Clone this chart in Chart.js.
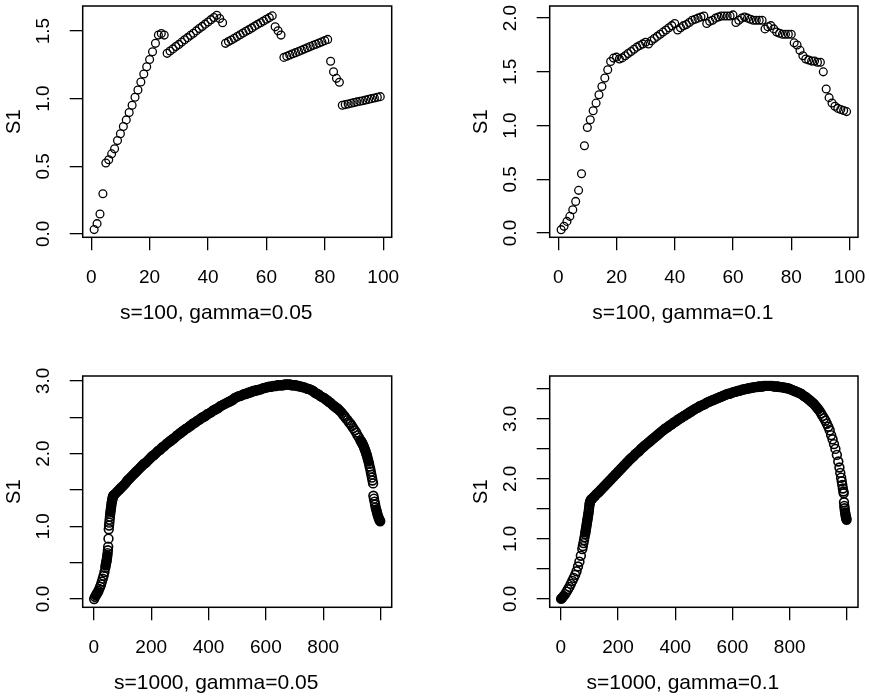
<!DOCTYPE html>
<html lang="en">
<head>
  <meta charset="UTF-8" />
  <title>S1 panels</title>
  <script src="https://cdn.jsdelivr.net/npm/chart.js"></script>
  <style>
    html, body { margin: 0; padding: 0; background: #fff; }
    body { width: 869px; height: 696px; position: relative; overflow: hidden; }
    .panel { position: absolute; }
  </style>
</head>
<body>

  <div class="panel" style="left:0;top:0;width:434px;height:348px"><canvas id="p1"></canvas></div>
  <div class="panel" style="left:467px;top:0;width:402px;height:348px"><canvas id="p2"></canvas></div>
  <div class="panel" style="left:0;top:340px;width:434px;height:356px"><canvas id="p3"></canvas></div>
  <div class="panel" style="left:467px;top:340px;width:402px;height:356px"><canvas id="p4"></canvas></div>

  <script>
    // s=100, gamma=0.05  (index 1..99)
    const p1Y = [
      0.032, 0.076, 0.147, 0.297, 0.524, 0.548, 0.592, 0.629, 0.690, 0.740,
      0.794, 0.843, 0.897, 0.951, 1.010, 1.064, 1.123, 1.182, 1.236, 1.290,
      1.347, 1.409, 1.470, 1.482, 1.470, 1.335, 1.352, 1.368, 1.385, 1.401,
      1.418, 1.435, 1.451, 1.468, 1.484, 1.501, 1.518, 1.534, 1.551, 1.567,
      1.584, 1.600, 1.617, 1.593, 1.561, 1.409, 1.422, 1.434, 1.447, 1.460,
      1.472, 1.485, 1.498, 1.510, 1.523, 1.536, 1.549, 1.561, 1.574, 1.587,
      1.599, 1.612, 1.531, 1.502, 1.470, 1.305, 1.314, 1.323, 1.332, 1.340,
      1.349, 1.358, 1.367, 1.376, 1.385, 1.394, 1.402, 1.411, 1.420, 1.429,
      1.438, 1.276, 1.199, 1.150, 1.121, 0.951, 0.956, 0.961, 0.966, 0.971,
      0.976, 0.981, 0.985, 0.990, 0.995, 1.000, 1.005, 1.010, 1.015
    ];

    // s=100, gamma=0.1  (index 1..99)
    const p2Y = [
      0.031, 0.062, 0.108, 0.155, 0.217, 0.294, 0.397, 0.552, 0.812, 0.982,
      1.054, 1.138, 1.209, 1.287, 1.364, 1.442, 1.519, 1.597, 1.628, 1.637,
      1.62, 1.63, 1.65, 1.67, 1.69, 1.71, 1.73, 1.745, 1.76, 1.775,
      1.76, 1.79, 1.81, 1.83, 1.85, 1.87, 1.89, 1.91, 1.93, 1.95,
      1.89, 1.91, 1.93, 1.94, 1.96, 1.98, 1.99, 2.00, 2.01, 2.02,
      1.95, 1.97, 1.98, 2.00, 2.01, 2.02, 2.02, 2.02, 2.02, 2.03,
      1.96, 1.98, 2.00, 2.01, 2.00, 1.99, 1.98, 1.98, 1.98, 1.98,
      1.90, 1.92, 1.93, 1.90, 1.87, 1.86, 1.85, 1.85, 1.85, 1.85,
      1.77, 1.75, 1.70, 1.65, 1.62, 1.61, 1.60, 1.60, 1.59, 1.59,
      1.50, 1.34, 1.26, 1.21, 1.18, 1.16, 1.15, 1.14, 1.13
    ];

    // s=1000, gamma=0.05
    const p3X = [
      1, 4, 7, 10, 13, 16, 19, 22, 25, 28, 31, 34, 37,
      40, 41, 42, 43, 44, 45, 46, 47, 48, 49,
      50, 51, 52, 53, 54, 55, 56, 57, 58, 59,
      60, 61, 62, 63, 64, 65, 66, 67, 68, 69,
      70, 75, 80, 85, 90, 95, 100, 105, 110, 115,
      120, 125, 130, 135, 140, 145, 150, 155, 160, 165,
      170, 175, 180, 185, 190, 195, 200, 205, 210, 215,
      220, 225, 230, 235, 240, 245, 250, 255, 260, 265,
      270, 275, 280, 285, 290, 295, 300, 305, 310, 315,
      320, 325, 330, 335, 340, 345, 350, 355, 360, 365,
      370, 375, 380, 385, 390, 395, 400, 405, 410, 415,
      420, 425, 430, 435, 440, 445, 450, 455, 460, 465,
      470, 475, 480, 485, 490, 495, 500, 505, 510, 515,
      520, 525, 530, 535, 540, 545, 550, 555, 560, 565,
      570, 575, 580, 585, 590, 595, 600, 605, 610, 615,
      620, 625, 630, 635, 640, 645, 650, 655, 660, 665,
      670, 675, 680, 685, 690, 695, 700, 705, 710, 715,
      720, 725, 730, 735, 740, 745, 750, 755, 760, 765,
      770, 775, 780, 785, 790, 795, 800, 805, 810, 815,
      820, 825, 830, 835, 840, 845, 850, 855, 860, 865,
      870, 875, 880, 885, 890, 895, 900, 905, 910, 915,
      920, 925, 930,
      932, 934, 936, 938, 940, 942, 944, 946, 948, 950,
      952, 954, 956, 958, 960, 962, 964, 966, 968, 970,
      972, 974,
      975, 977, 979, 981, 983, 985, 987, 989,
      991, 993, 995, 997, 999
    ];
    const p3Y = [
      0.00, 0.03, 0.05, 0.07, 0.09, 0.11, 0.14, 0.17, 0.20, 0.24, 0.28, 0.32, 0.37,
      0.43, 0.46, 0.48, 0.50, 0.52, 0.54, 0.57, 0.60, 0.63, 0.67,
      0.72, 0.83, 0.96, 1.01, 1.05, 1.09, 1.13, 1.17, 1.20, 1.23,
      1.26, 1.29, 1.32, 1.34, 1.36, 1.38, 1.40, 1.41, 1.42, 1.42,
      1.43, 1.45, 1.47, 1.49, 1.51, 1.53, 1.55, 1.57, 1.59, 1.62,
      1.64, 1.66, 1.68, 1.70, 1.72, 1.74, 1.76, 1.78, 1.80, 1.82,
      1.84, 1.86, 1.87, 1.89, 1.91, 1.93, 1.95, 1.97, 1.98, 2.00,
      2.02, 2.04, 2.05, 2.07, 2.09, 2.10, 2.12, 2.14, 2.15, 2.17,
      2.18, 2.20, 2.21, 2.23, 2.25, 2.26, 2.28, 2.29, 2.31, 2.32,
      2.34, 2.35, 2.36, 2.38, 2.39, 2.41, 2.42, 2.43, 2.45, 2.46,
      2.47, 2.49, 2.50, 2.51, 2.52, 2.54, 2.55, 2.56, 2.57, 2.59,
      2.60, 2.61, 2.62, 2.63, 2.65, 2.66, 2.67, 2.68, 2.69, 2.70,
      2.71, 2.72, 2.73, 2.74, 2.76, 2.77, 2.78, 2.79, 2.79, 2.80,
      2.81, 2.82, 2.82, 2.83, 2.84, 2.84, 2.85, 2.86, 2.86, 2.87,
      2.87, 2.88, 2.88, 2.89, 2.90, 2.90, 2.91, 2.91, 2.92, 2.92,
      2.92, 2.93, 2.93, 2.93, 2.94, 2.94, 2.94, 2.94, 2.94, 2.95,
      2.95, 2.95, 2.95, 2.95, 2.94, 2.94, 2.94, 2.94, 2.93, 2.93,
      2.92, 2.92, 2.91, 2.91, 2.90, 2.89, 2.89, 2.88, 2.87, 2.86,
      2.84, 2.83, 2.82, 2.81, 2.79, 2.78, 2.77, 2.76, 2.74, 2.73,
      2.71, 2.70, 2.68, 2.66, 2.65, 2.63, 2.62, 2.60, 2.58, 2.56,
      2.53, 2.51, 2.48, 2.46, 2.43, 2.41, 2.38, 2.35, 2.32, 2.29,
      2.25, 2.22, 2.18,
      2.17, 2.16, 2.14, 2.13, 2.11, 2.09, 2.07, 2.05, 2.03, 2.00,
      1.98, 1.95, 1.92, 1.89, 1.86, 1.82, 1.79, 1.75, 1.71, 1.67,
      1.63, 1.59,
      1.42, 1.38, 1.34, 1.30, 1.26, 1.23, 1.20, 1.17,
      1.14, 1.12, 1.10, 1.08, 1.07
    ];

    // s=1000, gamma=0.1
    const p4X = [
      1, 5, 10, 15, 20, 25, 30, 35, 40, 45, 50, 55, 60, 65, 70, 75,
      77, 79, 81, 83, 85,
      86, 87, 88, 89, 90, 91, 92, 93, 94, 95,
      96, 97, 98, 99, 100, 101, 102, 103,
      105, 107,
      110, 115, 120, 125, 130, 135, 140, 145, 150, 155,
      160, 165, 170, 175, 180, 185, 190, 195, 200, 205,
      210, 215, 220, 225, 230, 235, 240, 245, 250, 255,
      260, 265, 270, 275, 280, 285, 290, 295, 300, 305,
      310, 315, 320, 325, 330, 335, 340, 345, 350, 355,
      360, 365, 370, 375, 380, 385, 390, 395, 400, 405,
      410, 415, 420, 425, 430, 435, 440, 445, 450, 455,
      460, 465, 470, 475, 480, 485, 490, 495, 500, 505,
      510, 515, 520, 525, 530, 535, 540, 545, 550, 555,
      560, 565, 570, 575, 580, 585, 590, 595, 600, 605,
      610, 615, 620, 625, 630, 635, 640, 645, 650, 655,
      660, 665, 670, 675, 680, 685, 690, 695, 700, 705,
      710, 715, 720, 725, 730, 735, 740, 745, 750, 755,
      760, 765, 770, 775, 780, 785, 790, 795, 800, 805,
      810, 815, 820, 825, 830, 835, 840, 845, 850, 855,
      860, 865, 870, 875, 880, 885, 890, 895, 900, 905,
      910, 915, 920, 925, 930, 935, 940,
      945, 950, 955, 960, 965, 970, 974, 977, 980, 982,
      984, 986, 988, 989, 990, 991, 992, 993, 994, 995,
      996, 997, 998, 999
    ];
    const p4Y = [
      0.00, 0.02, 0.05, 0.08, 0.12, 0.16, 0.20, 0.25, 0.30, 0.35, 0.40, 0.46, 0.54, 0.62, 0.72, 0.83,
      0.88, 0.93, 0.98, 1.03, 1.08,
      1.11, 1.14, 1.17, 1.20, 1.23, 1.26, 1.29, 1.32, 1.35, 1.38,
      1.41, 1.44, 1.48, 1.52, 1.56, 1.59, 1.61, 1.63,
      1.65, 1.66,
      1.67, 1.70, 1.72, 1.75, 1.77, 1.79, 1.82, 1.84, 1.87, 1.89,
      1.92, 1.94, 1.97, 1.99, 2.02, 2.04, 2.07, 2.09, 2.12, 2.14,
      2.17, 2.19, 2.22, 2.24, 2.27, 2.29, 2.32, 2.34, 2.36, 2.38,
      2.41, 2.43, 2.45, 2.47, 2.50, 2.52, 2.54, 2.56, 2.58, 2.60,
      2.62, 2.64, 2.66, 2.68, 2.70, 2.72, 2.74, 2.76, 2.78, 2.80,
      2.82, 2.84, 2.85, 2.87, 2.89, 2.90, 2.92, 2.94, 2.95, 2.97,
      2.99, 3.00, 3.02, 3.03, 3.05, 3.06, 3.08, 3.09, 3.11, 3.12,
      3.14, 3.15, 3.17, 3.18, 3.19, 3.21, 3.22, 3.23, 3.24, 3.25,
      3.27, 3.28, 3.29, 3.30, 3.31, 3.32, 3.33, 3.34, 3.35, 3.36,
      3.37, 3.38, 3.39, 3.40, 3.41, 3.42, 3.42, 3.43, 3.44, 3.45,
      3.45, 3.46, 3.47, 3.47, 3.48, 3.49, 3.49, 3.50, 3.50, 3.51,
      3.51, 3.52, 3.52, 3.53, 3.53, 3.53, 3.54, 3.54, 3.54, 3.54,
      3.55, 3.55, 3.55, 3.55, 3.55, 3.55, 3.55, 3.54, 3.54, 3.54,
      3.54, 3.53, 3.53, 3.53, 3.52, 3.52, 3.51, 3.51, 3.50, 3.49,
      3.48, 3.47, 3.46, 3.45, 3.44, 3.43, 3.42, 3.40, 3.38, 3.37,
      3.35, 3.33, 3.31, 3.29, 3.27, 3.25, 3.22, 3.19, 3.16, 3.13,
      3.09, 3.05, 3.01, 2.97, 2.92, 2.87, 2.81,
      2.73, 2.66, 2.58, 2.50, 2.40, 2.29, 2.19, 2.10, 2.02, 1.96,
      1.90, 1.84, 1.79, 1.76, 1.61, 1.55, 1.51, 1.47, 1.44, 1.41,
      1.38, 1.36, 1.34, 1.32
    ];

    // axis ticks and which of them carry a label
    const xTicks100 = [0, 20, 40, 60, 80, 100];
    const xTicks1000 = [0, 200, 400, 600, 800, 1000];
    const xLabels1000 = [0, 200, 400, 600, 800];
    const yTicksP1 = [0, 0.5, 1, 1.5];
    const yTicksP2 = [0, 0.5, 1, 1.5, 2];
    const yTicksP3 = [0, 0.5, 1, 1.5, 2, 2.5, 3];
    const yTicksP4 = [0, 0.5, 1, 1.5, 2, 2.5, 3, 3.5];
    const yLabelsWhole = [0, 1, 2, 3];

    const FONT = '"Liberation Sans", Arial, Helvetica, sans-serif';

    // box round the plot area + x label under it
    const frame = {
      id: 'frame',
      afterDraw(chart, args, opts) {
        const { ctx, chartArea: a } = chart;
        ctx.save();
        ctx.strokeStyle = '#000';
        ctx.lineWidth = 1.5;
        ctx.strokeRect(a.left, a.top, a.right - a.left, a.bottom - a.top);
        ctx.fillStyle = '#000';
        ctx.font = '21px ' + FONT;
        ctx.textAlign = 'center';
        ctx.textBaseline = 'middle';
        ctx.fillText(opts.xlab, (a.left + a.right) / 2 - 21, a.bottom + 76);
        ctx.restore();
      }
    };

    // where circles are packed closer than ~2px to both neighbours the
    // overlapping rings read as solid ink, so close them up there
    function packedFill(c) {
      if (!c.packed) return 'rgba(0,0,0,0)';
      return ctx => {
        const d = ctx.dataset.data, i = ctx.dataIndex;
        const sx = ctx.chart.scales.x, sy = ctx.chart.scales.y;
        if (!d[i]) return 'rgba(0,0,0,0)';
        const gap = j => {
          if (j < 0 || j >= d.length) return 0;
          return Math.hypot(sx.getPixelForValue(d[j].x) - sx.getPixelForValue(d[i].x),
                            sy.getPixelForValue(d[j].y) - sy.getPixelForValue(d[i].y));
        };
        return Math.max(gap(i - 1), gap(i + 1)) < 2.3 ? '#000' : 'rgba(0,0,0,0)';
      };
    }

    function makePanel(id, pts, c) {
      const tickGrid = { drawOnChartArea: false, drawTicks: true, tickLength: 13, color: '#000', lineWidth: 1.3 };
      return new Chart(document.getElementById(id), {
        type: 'scatter',
        data: {
          datasets: [{
            data: pts,
            pointRadius: c.r,
            pointBorderWidth: c.bw,
            pointBorderColor: '#000',
            pointBackgroundColor: packedFill(c)
          }]
        },
        options: {
          responsive: true,
          maintainAspectRatio: false,
          animation: false,
          events: [],
          layout: { padding: { top: c.padTop, right: c.padRight, bottom: 0, left: 0 } },
          plugins: { legend: { display: false }, tooltip: { enabled: false }, frame: { xlab: c.xlab } },
          scales: {
            x: {
              type: 'linear', position: 'bottom', min: c.xMin, max: c.xMax,
              afterBuildTicks: s => { s.ticks = c.xTicks.map(v => ({ value: v })); },
              afterFit: s => { s.height = c.xAxisH; s.paddingLeft = 0; s.paddingRight = 0; },
              border: { display: false },
              grid: tickGrid,
              ticks: {
                autoSkip: false, minRotation: 0, maxRotation: 0, padding: 15.6,
                color: '#000', font: { family: FONT, size: 19 },
                callback: v => c.xShown.includes(v) ? String(v) : ''
              }
            },
            y: {
              type: 'linear', position: 'left', min: c.yMin, max: c.yMax,
              afterBuildTicks: s => { s.ticks = c.yTicks.map(v => ({ value: v })); },
              afterFit: s => { s.width = 82.7; s.paddingTop = 0; s.paddingBottom = 0; },
              border: { display: false },
              grid: tickGrid,
              ticks: {
                autoSkip: false, minRotation: 90, maxRotation: 90, crossAlign: 'center', padding: 12.8,
                color: '#000', font: { family: FONT, size: 19 },
                callback: v => c.yShown.includes(v) ? v.toFixed(1) : ''
              },
              title: {
                display: true, text: 'S1', color: '#000',
                font: { family: FONT, size: 20 }, padding: { top: 2.7, bottom: 0 }
              }
            }
          }
        },
        plugins: [frame]
      });
    }

    const byIndex = ys => ys.map((y, i) => ({ x: i + 1, y }));
    const byPairs = (xs, ys) => xs.map((x, i) => ({ x, y: ys[i] }));

    makePanel('p1', byIndex(p1Y), {
      xlab: 's=100, gamma=0.05', padTop: 6, padRight: 42.3, xAxisH: 110.7, r: 3.9, bw: 1.3,
      xMin: -2.92, xMax: 102.92, xTicks: xTicks100, xShown: xTicks100,
      yMin: -0.025, yMax: 1.685, yTicks: yTicksP1, yShown: yTicksP1
    });
    makePanel('p2', byIndex(p2Y), {
      xlab: 's=100, gamma=0.1', padTop: 6, padRight: 11, xAxisH: 110.7, r: 3.9, bw: 1.3,
      xMin: -2.92, xMax: 102.92, xTicks: xTicks100, xShown: xTicks100,
      yMin: -0.04, yMax: 2.113, yTicks: yTicksP2, yShown: yTicksP2
    });
    makePanel('p3', byPairs(p3X, p3Y), {
      xlab: 's=1000, gamma=0.05', padTop: 36, padRight: 42.3, xAxisH: 88.7, r: 4.4, bw: 1.6, packed: true,
      xMin: -38.92, xMax: 1038.92, xTicks: xTicks1000, xShown: xLabels1000,
      yMin: -0.114, yMax: 3.067, yTicks: yTicksP3, yShown: yLabelsWhole
    });
    makePanel('p4', byPairs(p4X, p4Y), {
      xlab: 's=1000, gamma=0.1', padTop: 36, padRight: 11, xAxisH: 88.7, r: 4.4, bw: 1.6, packed: true,
      xMin: -38.92, xMax: 1038.92, xTicks: xTicks1000, xShown: xLabels1000,
      yMin: -0.14, yMax: 3.715, yTicks: yTicksP4, yShown: yLabelsWhole
    });
  </script>
</body>
</html>
